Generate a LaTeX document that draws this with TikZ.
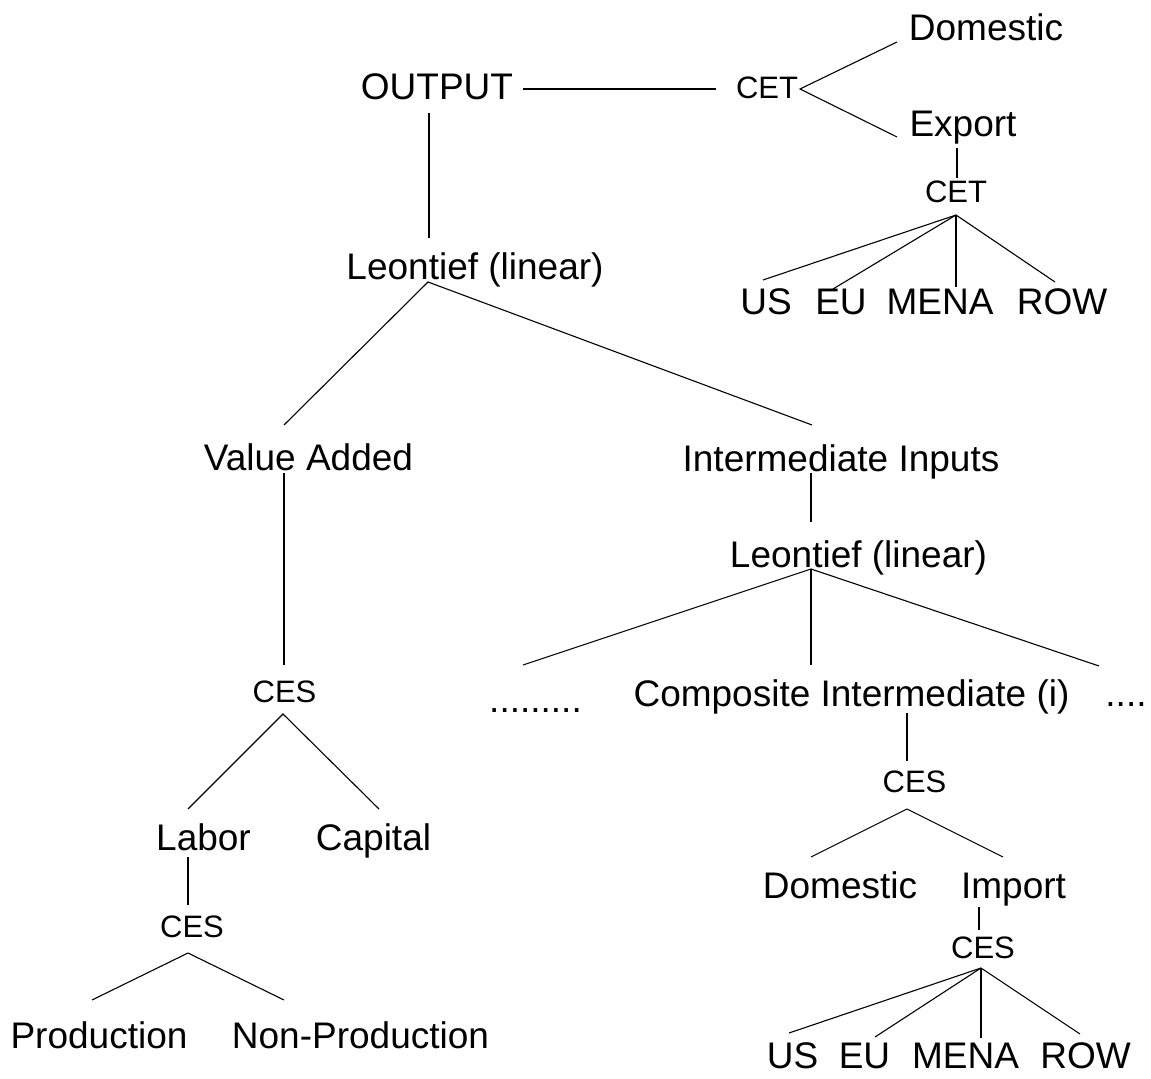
\documentclass[tikz,border=0pt]{standalone}
\usepackage{fontspec}
\setmainfont{Liberation Sans}
\usepackage{tikz}
\usetikzlibrary{positioning,calc}
\tikzset{
  good/.style={anchor=base, inner sep=0pt, font=\fontsize{18.5}{21}\selectfont},
  nest/.style={anchor=base, inner sep=0pt, font=\fontsize{15.5}{18}\selectfont},
  link/.style={draw=black, line width=0.55pt},
}

\begin{document}
\begin{tikzpicture}[x=0.5pt, y=-0.5pt]
  \useasboundingbox (0,0) rectangle (1151,1079);
  % output and the export side
  \node[good] (output) at (437,100) {OUTPUT};
  \node[nest] (cet1) at (767,99) {CET};
  \node[good] (dom1) at (986,41) {Domestic};
  \node[good] (export) at (963,137) {Export};
  \node[nest] (cet2) at (956,203) {CET};
  \node[good] (us1) at (766,315) {US};
  \node[good] (eu1) at (841,315) {EU};
  \node[good] (mena1) at (940,315) {MENA};
  \node[good] (row1) at (1062,315) {ROW};
  % input side
  \node[good] (leon1) at (475,280) {Leontief (linear)};
  \node[good] (va) at (308.5,471) {Value Added};
  \node[good] (ii) at (841,472) {Intermediate Inputs};
  \node[nest] (ces1) at (284.5,702) {CES};
  \node[good] (labor) at (203.5,850) {Labor};
  \node[good] (capital) at (373.5,850) {Capital};
  \node[nest] (ces2) at (192,937) {CES};
  \node[good] (prod) at (99,1048) {Production};
  \node[good] (nonprod) at (360.5,1048) {Non-Production};
  \node[good] (leon2) at (858.5,568) {Leontief (linear)};
  \node[good] (dots1) at (535.5,712) {.........};
  \node[good] (comp) at (851.5,706) {Composite Intermediate (i)};
  \node[good] (dots2) at (1126,706) {....};
  \node[nest] (ces3) at (914.5,792) {CES};
  \node[good] (dom2) at (840,898) {Domestic};
  \node[good] (import) at (1013.5,898) {Import};
  \node[nest] (ces4) at (983,958) {CES};
  \node[good] (us2) at (792.5,1068) {US};
  \node[good] (eu2) at (864.5,1068) {EU};
  \node[good] (mena2) at (965.5,1068) {MENA};
  \node[good] (row2) at (1085.5,1068) {ROW};

  % line ends
  \coordinate (output-r) at (523,89);   \coordinate (cet1-l) at (716,89);
  \coordinate (cet1-f) at (800,89);
  \coordinate (dom1-t) at (897,42);     \coordinate (export-t) at (897,137);
  \coordinate (export-b) at (957,148);  \coordinate (cet2-t) at (957,178);
  \coordinate (cet2-f) at (956,215);
  \coordinate (us1-t) at (763,280);     \coordinate (eu1-t) at (833,289);
  \coordinate (mena1-t) at (956,287);   \coordinate (row1-t) at (1055,282);
  \coordinate (output-b) at (429,113);  \coordinate (leon1-t) at (429,238);
  \coordinate (leon1-f) at (428,282);
  \coordinate (va-t) at (284,425);      \coordinate (ii-t) at (812,425);
  \coordinate (va-b) at (284,473);      \coordinate (ces1-t) at (284,665);
  \coordinate (ces1-f) at (283,714);
  \coordinate (labor-t) at (188,809);   \coordinate (capital-t) at (379,809);
  \coordinate (labor-b) at (188,857);   \coordinate (ces2-t) at (188,905);
  \coordinate (ces2-f) at (188,953);
  \coordinate (prod-t) at (92,1000);    \coordinate (nonprod-t) at (284,1000);
  \coordinate (ii-b) at (811,473);      \coordinate (leon2-t) at (811,522);
  \coordinate (leon2-f) at (811,569);
  \coordinate (dots1-t) at (523,665);   \coordinate (comp-t) at (811,665);
  \coordinate (dots2-t) at (1099,666);
  \coordinate (comp-b) at (907,713);    \coordinate (ces3-t) at (907,761);
  \coordinate (ces3-f) at (907,809);
  \coordinate (dom2-t) at (811,857);    \coordinate (import-t) at (1003,857);
  \coordinate (import-b) at (979,907);  \coordinate (ces4-t) at (979,930);
  \coordinate (ces4-f) at (981,968);
  \coordinate (us2-t) at (789,1033);    \coordinate (eu2-t) at (875,1037);
  \coordinate (mena2-t) at (981,1038);  \coordinate (row2-t) at (1080,1034);

  % connectors
  \draw[link] (output-r) -- (cet1-l);
  \draw[link] (dom1-t) -- (cet1-f) -- (export-t);
  \draw[link] (export-b) -- (cet2-t);
  \foreach \t in {us1-t,eu1-t,mena1-t,row1-t} \draw[link] (cet2-f) -- (\t);
  \draw[link] (output-b) -- (leon1-t);
  \draw[link] (va-t) -- (leon1-f) -- (ii-t);
  \draw[link] (va-b) -- (ces1-t);
  \draw[link] (labor-t) -- (ces1-f) -- (capital-t);
  \draw[link] (labor-b) -- (ces2-t);
  \draw[link] (prod-t) -- (ces2-f) -- (nonprod-t);
  \draw[link] (ii-b) -- (leon2-t);
  \foreach \t in {dots1-t,comp-t,dots2-t} \draw[link] (leon2-f) -- (\t);
  \draw[link] (comp-b) -- (ces3-t);
  \draw[link] (dom2-t) -- (ces3-f) -- (import-t);
  \draw[link] (import-b) -- (ces4-t);
  \foreach \t in {us2-t,eu2-t,mena2-t,row2-t} \draw[link] (ces4-f) -- (\t);
\end{tikzpicture}
\end{document}
